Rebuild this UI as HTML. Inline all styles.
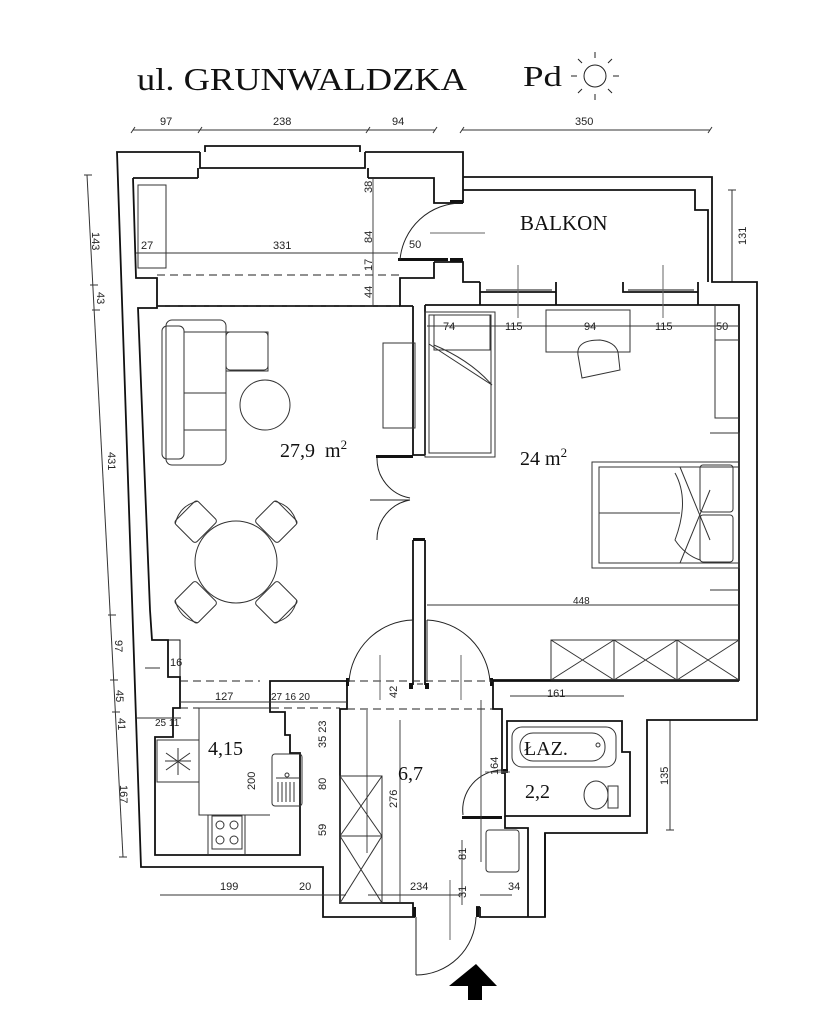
<!DOCTYPE html>
<html><head><meta charset="utf-8"><style>
html,body{margin:0;padding:0;background:#fff;}
svg{display:block;}
text{font-family:"Liberation Sans",sans-serif;fill:#222;}
.s{font-family:"Liberation Serif",serif;fill:#111;}
</style></head><body>
<svg width="819" height="1024" viewBox="0 0 819 1024" xmlns="http://www.w3.org/2000/svg">
<rect width="819" height="1024" fill="#fff"/>
<!-- title -->
<text x="137" y="90" class="s" font-size="32" textLength="330" lengthAdjust="spacingAndGlyphs">ul. GRUNWALDZKA</text>
<text x="523" y="86" class="s" font-size="28" textLength="39" lengthAdjust="spacingAndGlyphs">Pd</text>
<g stroke="#222" stroke-width="1" fill="none">
<circle cx="595" cy="76" r="11"/>
<path d="M595 58v-6M595 94v6M577 76h-6M613 76h6M582 63l-4-4M608 63l4-4M582 89l-4 4M608 89l4 4"/>
</g>
<!-- top dims -->
<g stroke="#333" stroke-width="1" fill="none">
<path d="M133 130H435M462 130H710"/>
<path d="M131 133l4-6M198 133l4-6M366 133l4-6M433 133l4-6M460 133l4-6M708 133l4-6"/>
<path d="M87 175L123 857"/>
<path d="M84 175h8M90 285h8M92 310h8M108 615h8M110 680h8M112 712h8M119 857h8"/>
<path d="M732 190V282M728 190h8M728 282h8"/>
<path d="M670 720V830M666 830h8"/>
</g>
<g font-size="11">
<text x="160" y="125">97</text><text x="273" y="125">238</text><text x="392" y="125">94</text><text x="575" y="125">350</text>
<text transform="translate(92,232) rotate(90)">143</text>
<text transform="translate(97,292) rotate(90)">43</text>
<text transform="translate(108,452) rotate(90)">431</text>
<text transform="translate(115,640) rotate(90)">97</text>
<text transform="translate(116,690) rotate(90)">45</text>
<text transform="translate(118,718) rotate(90)">41</text>
<text transform="translate(120,785) rotate(90)">167</text>
<text transform="translate(746,245) rotate(-90)">131</text>
<text transform="translate(668,785) rotate(-90)">135</text>
</g>

<!-- WALLS -->
<g stroke="#111" stroke-width="1.8" fill="none" stroke-linejoin="miter">
<path d="M463 203V152H365M200 152H117L141 867H323V917H415"/>
<path d="M480 907V917H545V833H647V720H757V282H712V177H463"/>
<path d="M200 152V168H365V152M205 152V146H360V152"/>
<path d="M198 168V178M368 168V178"/>
<path d="M133 178H198M368 178H434V203H463"/>
<path d="M133 178L136 278H157V308H138L150 610"/>
<path d="M463 190H695V210H708V282"/>
<path d="M434 262H463V282H480"/>
<path d="M434 262V278H400V306H413"/>
<path d="M400 306H157"/>
<path d="M425 305H739V680H492"/>
<path d="M480 282V292H556V282M556 282V305M623 282V292H698V282M480 292V305M698 292V305"/>
<path d="M486 290H552M628 290H694" stroke-width="1"/>
<path d="M413 306V455M425 305V455M413 540V685M425 540V685"/>
<path d="M413 455H425M413 540H425"/>
<path d="M150 610L152 640H168V677H180V708H173V737H155V855H300V753H290V735H285V712H270V681H347V709H340V903H413V917"/>
<path d="M168 640H180V677" stroke-width="1"/>
<path d="M493 681V709H502V773H505V816H630V752H622V721H507V773"/>
<path d="M493 681H739"/>
<path d="M505 816V828H528V917M545 917V833"/>
<path d="M480 907H476"/>
</g>
<g fill="#111">
<rect x="450" y="200" width="13" height="4"/>
<rect x="398" y="258" width="50" height="3"/>
<rect x="450" y="258" width="13" height="4"/>
<rect x="376" y="455" width="37" height="3"/>
<rect x="413" y="538" width="12" height="3"/>
<rect x="346" y="678" width="3" height="8"/>
<rect x="490" y="678" width="3" height="8"/>
<rect x="409" y="683" width="4" height="6"/>
<rect x="425" y="683" width="4" height="6"/>
<rect x="462" y="816" width="40" height="3"/>
<rect x="503" y="769" width="5" height="4"/>
<rect x="413" y="907" width="3" height="10"/>
<rect x="476" y="907" width="3" height="10"/>
</g>
<g stroke="#222" stroke-width="1" fill="none">
<path d="M462 203A62 62 0 0 0 400 260"/>
<path d="M377 458A40 40 0 0 0 410 498M377 540A40 40 0 0 1 410 500"/>
<path d="M370 500H410"/>
<path d="M349 682A66 66 0 0 1 413 620M490 682A66 66 0 0 0 427 620"/>
<path d="M413 620V682M427 620V682M417 684H423"/>
<path d="M502 770A40 40 0 0 0 463 815"/>
<path d="M416 917V975M416 975A60 60 0 0 0 476 917"/>
<path stroke-dasharray="8,5" d="M157 275H400M157 306H400M180 681H260M347 681H493M180 708H340M347 709H493"/>
<path stroke="#666" d="M430 233H485M518 265V318M663 265V318M380 655V700M461 655V700M485 772H510M450 880V940"/>
</g>

<g stroke="#333" stroke-width="0.9" fill="none">
<path d="M136 253H398M373 178V306M427 326H739M427 605H739M145 668H160M180 702H347M137 718H181M481 700V862M462 840V905M400 720V903M367 710V853M160 895H346M368 895H462M480 895H512M510 696H624"/>
</g>
<g font-size="11">
<text x="141" y="249">27</text><text x="273" y="249">331</text><text x="409" y="248">50</text>
<text transform="translate(372,193) rotate(-90)">38</text>
<text transform="translate(372,243) rotate(-90)">84</text>
<text transform="translate(372,271) rotate(-90)">17</text>
<text transform="translate(372,298) rotate(-90)">44</text>
<text x="443" y="330">74</text><text x="505" y="330">115</text><text x="584" y="330">94</text><text x="655" y="330">115</text><text x="716" y="330">50</text>
<text x="573" y="604" font-size="10">448</text>
<text x="170" y="666">16</text>
<text x="215" y="700">127</text><text x="271" y="700" font-size="10">27 16 20</text>
<text x="155" y="726" font-size="10">25 11</text>
<text x="547" y="697">161</text>
<text transform="translate(397,698) rotate(-90)">42</text>
<text transform="translate(326,748) rotate(-90)">35 23</text>
<text transform="translate(326,790) rotate(-90)">80</text>
<text transform="translate(326,836) rotate(-90)">59</text>
<text transform="translate(255,790) rotate(-90)">200</text>
<text transform="translate(397,808) rotate(-90)">276</text>
<text transform="translate(498,775) rotate(-90)">164</text>
<text transform="translate(466,860) rotate(-90)">81</text>
<text transform="translate(466,898) rotate(-90)">31</text>
<text x="220" y="890">199</text><text x="299" y="890">20</text><text x="410" y="890">234</text><text x="508" y="890">34</text>
</g>

<text x="520" y="230" class="s" font-size="21">BALKON</text>
<text x="280" y="457" class="s" font-size="20">27,9&#160; m<tspan dy="-8" font-size="13">2</tspan></text>
<text x="520" y="465" class="s" font-size="20">24 m<tspan dy="-8" font-size="13">2</tspan></text>
<text x="208" y="755" class="s" font-size="20">4,15</text>
<text x="398" y="780" class="s" font-size="20">6,7</text>
<text x="524" y="755" class="s" font-size="20">ŁAZ.</text>
<text x="525" y="798" class="s" font-size="20">2,2</text>

<g stroke="#333" stroke-width="1" fill="none">
<rect x="138" y="185" width="28" height="83"/>
<rect x="166" y="320" width="60" height="145" rx="6"/>
<rect x="162" y="326" width="22" height="133" rx="5"/>
<path d="M184 332H268V371H226M184 393H226M184 430H226"/>
<rect x="226" y="332" width="42" height="38" rx="4"/>
<circle cx="265" cy="405" r="25"/>
<rect x="383" y="343" width="32" height="85"/>
<circle cx="236" cy="562" r="41"/>
<g transform="translate(236,562)">
<g transform="rotate(45)"><rect x="-16" y="-72" width="32" height="30" rx="3"/><path d="M-16 -70Q0 -80 16 -70"/></g>
<g transform="rotate(135)"><rect x="-16" y="-72" width="32" height="30" rx="3"/><path d="M-16 -70Q0 -80 16 -70"/></g>
<g transform="rotate(225)"><rect x="-16" y="-72" width="32" height="30" rx="3"/><path d="M-16 -70Q0 -80 16 -70"/></g>
<g transform="rotate(315)"><rect x="-16" y="-72" width="32" height="30" rx="3"/><path d="M-16 -70Q0 -80 16 -70"/></g>
</g>
<rect x="425" y="312" width="70" height="145"/>
<rect x="429" y="315" width="62" height="138"/>
<path d="M434 315H490V350H434ZM429 344L492 385M434 345Q470 360 492 385"/>
<rect x="546" y="310" width="84" height="42"/>
<path d="M578 355Q576 340 600 340Q615 342 618 352L620 370L582 378Z"/>
<path d="M715 305V418H739M715 340H739M710 433H739V463M710 590H739"/>
<rect x="592" y="462" width="147" height="106"/>
<rect x="599" y="467" width="140" height="96"/>
<path d="M599 513H680M680 467L710 540M680 563L710 490"/>
<rect x="700" y="465" width="33" height="47" rx="3"/>
<rect x="700" y="515" width="33" height="47" rx="3"/>
<path d="M675 473Q690 500 675 540Q685 555 700 560"/>
<rect x="551" y="640" width="188" height="40"/>
<path d="M614 640V680M677 640V680M551 640L614 680M614 640L551 680M614 640L677 680M677 640L614 680M677 640L739 680M739 640L677 680"/>
<rect x="157" y="740" width="42" height="42"/>
<path d="M178 748V775M166 753L190 770M190 753L166 770M165 761H191"/>
<path d="M199 708H270M199 708V815H270M208 815H245V855M208 815V855"/>
<rect x="212" y="816" width="30" height="33"/>
<circle cx="220" cy="825" r="4"/><circle cx="234" cy="825" r="4"/><circle cx="220" cy="840" r="4"/><circle cx="234" cy="840" r="4"/>
<rect x="272" y="754" width="30" height="52" rx="3"/>
<path d="M276 778H300M278 782V802M282 782V802M286 782V802M290 782V802M294 782V802"/>
<circle cx="287" cy="775" r="2"/>
<rect x="340" y="776" width="42" height="127"/>
<path d="M340 836H382M340 776L382 836M382 776L340 836M340 836L382 903M382 836L340 903"/>
<rect x="512" y="727" width="104" height="40" rx="10"/>
<rect x="520" y="733" width="85" height="28" rx="13"/>
<circle cx="598" cy="745" r="2"/>
<ellipse cx="596" cy="795" rx="12" ry="14"/>
<rect x="608" y="786" width="10" height="22"/>
<rect x="486" y="830" width="33" height="42" rx="3"/>
</g>
<path d="M476 964L497 986H482V1000H468V986H449Z" fill="#000"/>
</svg>
</body></html>
